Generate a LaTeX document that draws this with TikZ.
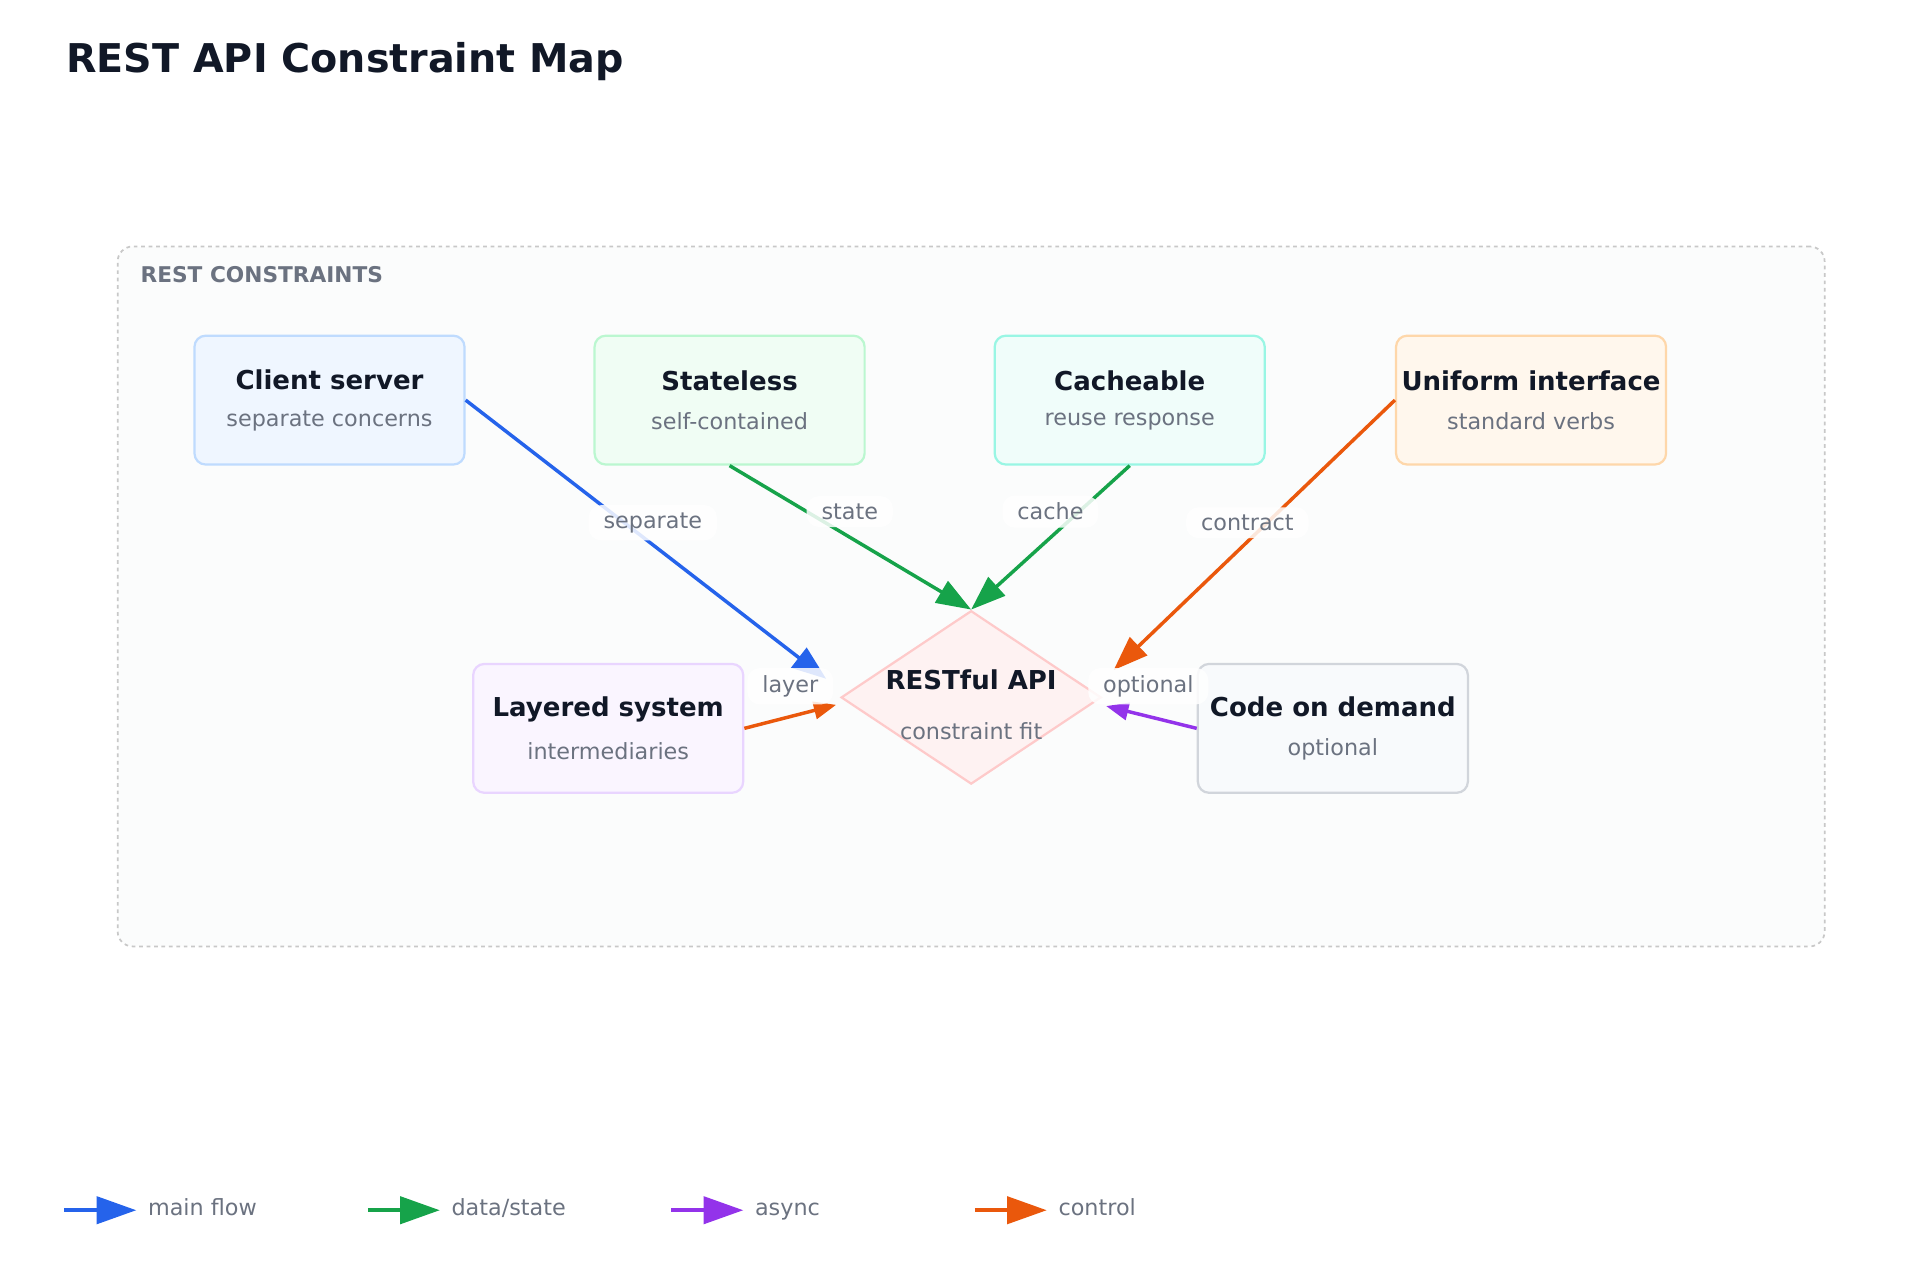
\documentclass[tikz,border=0pt]{standalone}
\usepackage{fontspec}
\setmainfont{DejaVu Sans}
\usetikzlibrary{arrows.meta,shapes.geometric}
\definecolor{ink}{HTML}{111827}
\definecolor{sub}{HTML}{6B7280}
\definecolor{cblue}{HTML}{2563EB}
\definecolor{cgreen}{HTML}{16A34A}
\definecolor{cpurple}{HTML}{9333EA}
\definecolor{corange}{HTML}{EA580C}
\definecolor{frd}{HTML}{C8C8C8}
\definecolor{frf}{HTML}{FBFCFC}
\definecolor{bbd}{HTML}{BFDBFE}\definecolor{bbf}{HTML}{EFF6FF}
\definecolor{gbd}{HTML}{BBF7D0}\definecolor{gbf}{HTML}{F0FDF4}
\definecolor{tbd}{HTML}{99F6E4}\definecolor{tbf}{HTML}{F0FDFA}
\definecolor{obd}{HTML}{FED7AA}\definecolor{obf}{HTML}{FFF7ED}
\definecolor{pbd}{HTML}{E9D5FF}\definecolor{pbf}{HTML}{FAF5FF}
\definecolor{ybd}{HTML}{D1D5DB}\definecolor{ybf}{HTML}{F8FAFC}
\definecolor{rbd}{HTML}{FECACA}\definecolor{rbf}{HTML}{FEF2F2}
\tikzset{
 box/.style={draw=#1,line width=1.8pt,rounded corners=9pt,minimum width=218pt,minimum height=104pt,align=center},
 ttl/.style={font=\fontsize{21}{24}\selectfont\bfseries,text=ink},
 lbl/.style={font=\fontsize{18}{21}\selectfont,text=sub,fill=white,fill opacity=0.85,text opacity=1,inner xsep=12pt,inner ysep=6pt,rounded corners=10pt},
 con/.style={draw=#1,line width=2.8pt,-{Triangle[length=28pt,width=20pt]}},
 cons/.style={draw=#1,line width=2.8pt,-{Triangle[length=18pt,width=14pt]}},
}
\newcommand{\boxtext}[2]{{\fontsize{21}{24}\selectfont\bfseries\color{ink}#1}\\[16pt]{\fontsize{18}{21}\selectfont\color{sub}#2}}
\begin{document}
\begin{tikzpicture}[x=1pt,y=-1pt]
\useasboundingbox (0,0) rectangle (1550,1033);
\node[anchor=west,font=\fontsize{32}{38}\selectfont\bfseries,text=ink] (title) at (50,50) {REST API Constraint Map};
\node[draw=frd,dashed,line width=1.4pt,fill=frf,rounded corners=12pt,minimum width=1378pt,minimum height=565pt] (frame) at (784,481.5) {};
\node[anchor=west,font=\fontsize{17.5}{20}\selectfont\bfseries,text=sub] (ftitle) at (110,222) {REST CONSTRAINTS};
\node[box=bbd,fill=bbf] (cs) at (266,323) {\boxtext{Client server}{separate concerns}};
\node[box=gbd,fill=gbf] (sl) at (589,323) {\boxtext{Stateless}{self-contained}};
\node[box=tbd,fill=tbf] (ca) at (912,323) {\boxtext{Cacheable}{reuse response}};
\node[box=obd,fill=obf] (ui) at (1236,323) {\boxtext{Uniform interface}{standard verbs}};
\node[box=pbd,fill=pbf] (ls) at (491,588) {\boxtext{Layered system}{intermediaries}};
\node[box=ybd,fill=ybf] (cd) at (1076,588) {\boxtext{Code on demand}{optional}};
\node[diamond,draw=rbd,fill=rbf,line width=1.8pt,minimum width=210pt,minimum height=140pt,inner sep=0pt,aspect=1.5] (api) at (784,563) {};
\node[ttl] (apit) at (784,549) {RESTful API};
\node[font=\fontsize{18}{21}\selectfont,text=sub] (apis) at (784,590) {constraint fit};
\coordinate (tcs) at (667,548);
\coordinate (tui) at (899,541);
\coordinate (tls) at (675,569);
\coordinate (tcd) at (893,570);
\draw[con=cblue] (cs.east) -- (tcs);
\draw[con=cgreen] (sl.south) -- (api.north);
\draw[con=cgreen] (ca.south) -- (api.north);
\draw[con=corange] (ui.west) -- (tui);
\draw[cons=corange] (ls.east) -- (tls);
\draw[cons=cpurple] (cd.west) -- (tcd);
\node[lbl] (l1) at (527,422) {separate};
\node[lbl] (l2) at (686,413) {state};
\node[lbl] (l3) at (848,413) {cache};
\node[lbl] (l4) at (1007,422) {contract};
\node[lbl] (l5) at (638,554) {layer};
\node[lbl] (l6) at (927,554) {optional};
\foreach \c/\t/\x [count=\i] in {cblue/main flow/52,cgreen/data\slash state/297,cpurple/async/542,corange/control/787}{
 \coordinate (ga\i) at (\x,977);
 \coordinate (gb\i) at (\x+58,977);
 \draw[draw=\c,line width=2.8pt,-{Triangle[length=32pt,width=22pt]}] (ga\i) -- (gb\i);
 \node[anchor=west,font=\fontsize{18}{21}\selectfont,text=sub] (gt\i) at (\x+64,977) {\strut\t};
}
\end{tikzpicture}
\end{document}
